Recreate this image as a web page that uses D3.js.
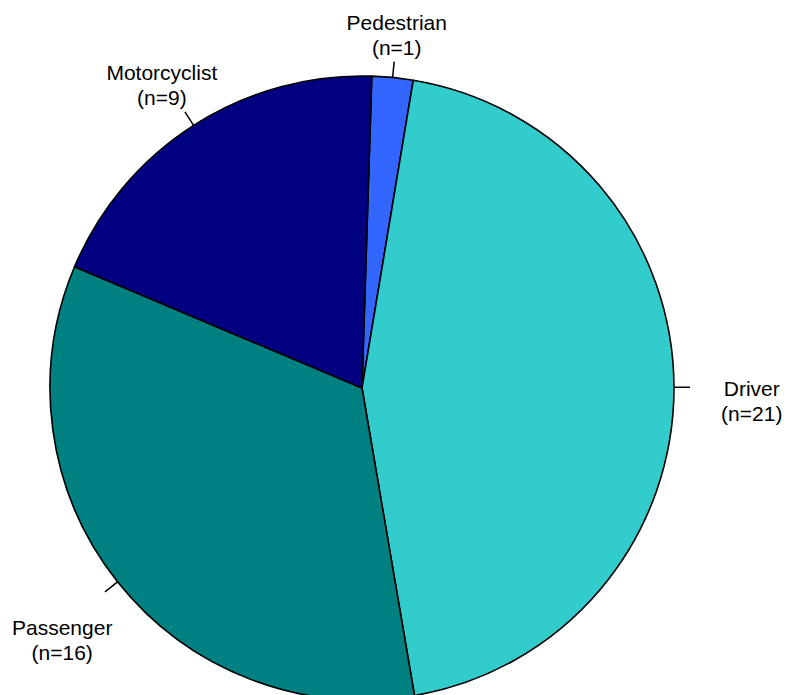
<!DOCTYPE html>
<html>
<head>
<meta charset="utf-8">
<script src="https://cdn.jsdelivr.net/npm/d3@7"></script>
<style>
  body { margin: 0; background: #fff; }
  text { font-family: Arial, "Liberation Sans", sans-serif; font-size: 21px; fill: #000; }
</style>
</head>
<body>
<script>
// data
var categories = ["Pedestrian", "Driver", "Passenger", "Motorcyclist"];
var counts = [1, 21, 16, 9];
var colors = ["#3366ff", "#33cccc", "#008080", "#000080"];

var width = 789, height = 695;
var cx = 362, cy = 388, radius = 312;
var startDeg = 1.8;
// label distance from centre and a small angle nudge (degrees)
var labelDist = [354, 390, 392, 362];
var labelNudge = [0, 2.2, -1.7, -0.9];

var svg = d3.select("body").append("svg")
    .attr("width", width).attr("height", height);

var g = svg.append("g").attr("transform", "translate(" + cx + "," + cy + ")");

var pie = d3.pie().sort(null)
    .startAngle(startDeg * Math.PI / 180)
    .endAngle((startDeg + 360) * Math.PI / 180);
var arcs = pie(counts);

var arc = d3.arc().innerRadius(0).outerRadius(radius);

g.selectAll("path.slice").data(arcs).enter()
    .append("path")
    .attr("class", "slice")
    .attr("d", arc)
    .attr("fill", function(d, i) { return colors[i]; })
    .attr("stroke", "#000")
    .attr("stroke-width", 1.6)
    .attr("stroke-linejoin", "round");

function mid(d) { return (d.startAngle + d.endAngle) / 2; }

// tick marks
g.selectAll("line.tick").data(arcs).enter()
    .append("line")
    .attr("x1", function(d) { return radius * Math.sin(mid(d)); })
    .attr("y1", function(d) { return -radius * Math.cos(mid(d)); })
    .attr("x2", function(d) { return (radius + 16) * Math.sin(mid(d)); })
    .attr("y2", function(d) { return -(radius + 16) * Math.cos(mid(d)); })
    .attr("stroke", "#000").attr("stroke-width", 1.5);

// labels
var labels = g.selectAll("g.label").data(arcs).enter()
    .append("g")
    .attr("transform", function(d, i) {
        var a = mid(d) + labelNudge[i] * Math.PI / 180;
        return "translate(" + (labelDist[i] * Math.sin(a)) + "," + (-labelDist[i] * Math.cos(a)) + ")";
    });

labels.append("text")
    .attr("text-anchor", "middle")
    .attr("y", -6)
    .text(function(d, i) { return categories[i]; });

labels.append("text")
    .attr("text-anchor", "middle")
    .attr("y", 19)
    .text(function(d, i) { return "(n=" + counts[i] + ")"; });
</script>
</body>
</html>
